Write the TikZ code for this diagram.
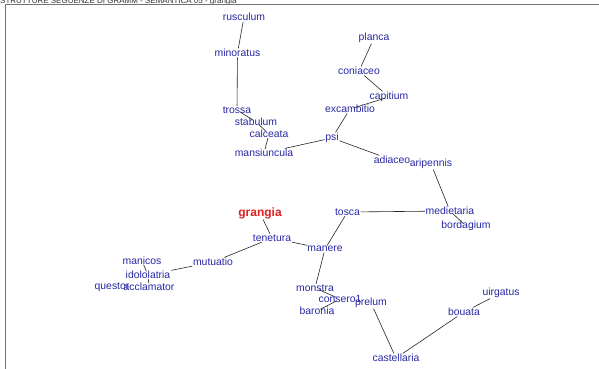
\documentclass[tikz,border=0pt]{standalone}
\usepackage{fontspec}
\setmainfont{Liberation Sans}
\definecolor{lblue}{RGB}{40,40,165}
\definecolor{lred}{RGB}{225,30,30}
\tikzset{
  lbl/.style={text=lblue, font=\fontsize{10.4}{12}\selectfont, inner sep=0.6pt},
  hub/.style={text=lred, font=\fontsize{12}{14}\selectfont\bfseries, inner sep=0.6pt},
  edge/.style={draw=black!85, line width=0.6pt},
  near/.style={edge, shorten <=4pt, shorten >=4pt}
}
\begin{document}
\begin{tikzpicture}[x=1pt,y=-1pt]
\useasboundingbox (0,0) rectangle (599,368);
\clip (0,0) rectangle (599,368);
\fill[white] (0,0) rectangle (599,368);
% title (cut at the top)
\node[anchor=base west, inner sep=0pt, font=\fontsize{8}{9}\selectfont, text=black!80] (title) at (0,3) {STRUTTURE SEGUENZE DI GRAMM - SEMANTICA 05 - grangia};
% frame
\draw[black!55, line width=1.6pt] (5.5,370) -- (5.5,4.5) -- (600,4.5);
% nodes
\node[lbl] (rusculum) at (244,17) {rusculum};
\node[lbl] (minoratus) at (237.5,53) {minoratus};
\node[lbl] (trossa) at (237,110) {trossa};
\node[lbl] (stabulum) at (256,122) {stabulum};
\node[lbl] (calceata) at (269,134) {calceata};
\node[lbl] (mansiuncula) at (264,153) {mansiuncula};
\node[lbl] (psi) at (332,138) {psi};
\node[lbl] (excambitio) at (350,109) {excambitio};
\node[lbl] (capitium) at (389,97) {capitium};
\node[lbl] (coniaceo) at (359,71) {coniaceo};
\node[lbl] (planca) at (374,38) {planca};
\node[lbl] (adiaceo) at (392,160) {adiaceo};
\node[lbl] (aripennis) at (431,164) {aripennis};
\node[lbl] (medietaria) at (450,211) {medietaria};
\node[lbl] (bordagium) at (466,226) {bordagium};
\node[lbl] (tosca) at (347.5,212) {tosca};
\node[hub] (grangia) at (260,213) {grangia};
\node[lbl] (tenetura) at (272,238) {tenetura};
\node[lbl] (manere) at (325,249) {manere};
\node[lbl] (mutuatio) at (213,262) {mutuatio};
\node[lbl] (manicos) at (142,261) {manicos};
\node[lbl] (idololatria) at (148,275) {idololatria};
\node[lbl] (questor) at (112,287) {questor};
\node[lbl] (acclamator) at (149,287) {acclamator};
\node[lbl] (monstra) at (315,288) {monstra};
\node[lbl] (consero1) at (340,299) {consero1};
\node[lbl] (baronia) at (317,311) {baronia};
\node[lbl] (prelum) at (371,303) {prelum};
\node[lbl] (castellaria) at (396,358) {castellaria};
\node[lbl] (bouata) at (464,312) {bouata};
\node[lbl] (uirgatus) at (501,293) {uirgatus};
% edges
\draw[edge] (rusculum) -- (minoratus);
\draw[edge] (minoratus) -- (trossa);
\draw[near] (trossa.center) -- (stabulum.center);
\draw[near] (stabulum.center) -- (calceata.center);
\draw[near] (calceata.center) -- (mansiuncula.center);
\draw[edge] (mansiuncula) -- (psi);
\draw[edge] (psi) -- (excambitio);
\draw[near] (excambitio.center) -- (capitium.center);
\draw[edge] (capitium) -- (coniaceo);
\draw[edge] (coniaceo) -- (planca);
\draw[edge] (psi) -- (adiaceo);
\draw[edge] (aripennis) -- (medietaria);
\draw[near] (medietaria.center) -- (bordagium.center);
\draw[edge] (medietaria) -- (tosca);
\draw[edge] (tosca) -- (manere);
\draw[edge] (manere) -- (tenetura);
\draw[edge] (tenetura) -- (grangia);
\draw[edge] (tenetura) -- (mutuatio);
\draw[edge] (mutuatio) -- (idololatria);
\draw[near] (idololatria.center) -- (manicos.center);
\draw[near] (idololatria.center) -- (acclamator.center);
\draw[edge] (manere) -- (monstra);
\draw[near] (monstra.center) -- (consero1.center);
\draw[near] (consero1.center) -- (baronia.center);
\draw[edge] (prelum) -- (castellaria);
\draw[edge] (castellaria) -- (bouata);
\draw[edge] (bouata) -- (uirgatus);
\end{tikzpicture}
\end{document}
